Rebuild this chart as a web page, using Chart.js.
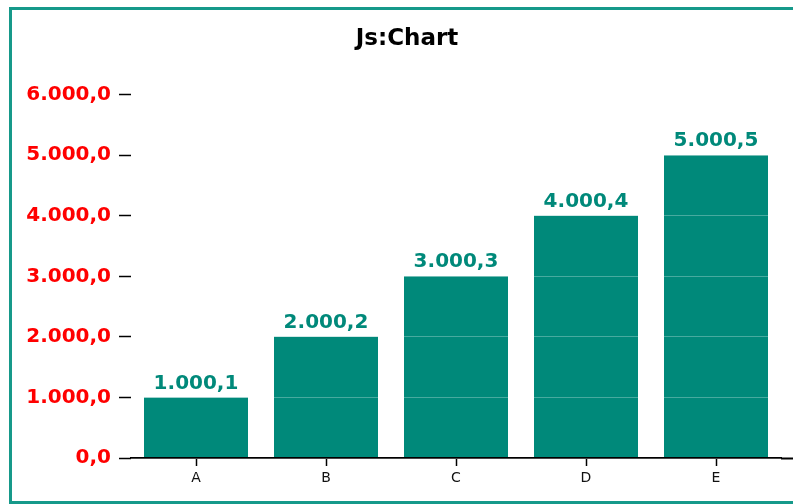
<!DOCTYPE html>
<html>
<head>
<meta charset="utf-8">
<script src="https://cdn.jsdelivr.net/npm/chart.js@4"></script>
<style>
  html, body { margin: 0; padding: 0; background: #fff; overflow: hidden; }
  #frame {
    position: absolute; left: 9px; top: 7px;
    width: 790px; height: 491px;
    border: 3px solid #16998a;
    background: #fff;
  }
  #chart { display: block; }
</style>
</head>
<body>
<div id="frame"><canvas id="chart" width="790" height="491"></canvas></div>
<script>
const categories = ["A", "B", "C", "D", "E"];
const values = [1000.1, 2000.2, 3000.3, 4000.4, 5000.5];
const yTicks = [0, 1000, 2000, 3000, 4000, 5000, 6000];

const TEAL = "#00897a";

// 1234.5 -> "1.234,5"
function fmt(v) {
  const [int, dec] = v.toFixed(1).split(".");
  return int.replace(/\B(?=(\d{3})+(?!\d))/g, ".") + "," + dec;
}

// value labels above each bar
const barLabels = {
  id: "barLabels",
  afterDatasetsDraw(chart) {
    const ctx = chart.ctx;
    const meta = chart.getDatasetMeta(0);
    ctx.save();
    ctx.font = "bold 20px 'DejaVu Sans'";
    ctx.fillStyle = TEAL;
    ctx.textAlign = "center";
    ctx.textBaseline = "bottom";
    meta.data.forEach((bar, i) => {
      ctx.fillText(fmt(chart.data.datasets[0].data[i]), bar.x, bar.y - 4);
    });
    ctx.restore();
  }
};

new Chart(document.getElementById("chart"), {
  type: "bar",
  data: {
    labels: categories,
    datasets: [{
      data: values,
      backgroundColor: TEAL,
      borderWidth: 0,
      barPercentage: 1,
      categoryPercentage: 0.8,
    }]
  },
  options: {
    responsive: false,
    animation: false,
    plugins: {
      legend: { display: false },
      tooltip: { enabled: false },
      title: {
        display: true,
        text: "Js:Chart",
        color: "#000",
        font: { family: "'DejaVu Sans'", size: 23, weight: "bold" },
        padding: { top: 15, bottom: 42 },
      },
    },
    scales: {
      x: {
        grid: {
          offset: false,
          drawOnChartArea: false,
          tickLength: 8,
          tickColor: "#000",
          tickWidth: 1.5,
        },
        border: { display: true, color: "#000", width: 2, z: 1 },
        ticks: {
          color: "#111",
          padding: 4,
          font: { family: "'DejaVu Sans'", size: 14 },
        },
        afterFit: s => { s.height = 43; },
      },
      y: {
        min: 0,
        max: 6000,
        afterBuildTicks: s => { s.ticks = yTicks.map(v => ({ value: v })); },
        grid: {
          z: 1,
          color: "rgba(255,255,255,0.28)",
          tickColor: "#000",
          tickLength: 12,
          tickWidth: 1.5,
        },
        border: { display: false },
        ticks: {
          color: "#ff0000",
          padding: 8,
          font: { family: "'DejaVu Sans'", size: 20, weight: "bold" },
          callback: v => fmt(v),
        },
        afterFit: s => { s.width = 119; },
      },
      // empty right-hand axis: keeps the right margin and carries the baseline on to the edge
      yRight: {
        position: "right",
        min: 0,
        max: 6000,
        afterBuildTicks: s => { s.ticks = [{ value: 0 }]; },
        grid: {
          z: 1,
          drawOnChartArea: false,
          tickLength: 21,
          tickWidth: 2,
          tickColor: "#000",
        },
        border: { display: false },
        ticks: { display: false },
        afterFit: s => { s.width = 21; },
      },
    },
  },
  plugins: [barLabels],
});
</script>
</body>
</html>
